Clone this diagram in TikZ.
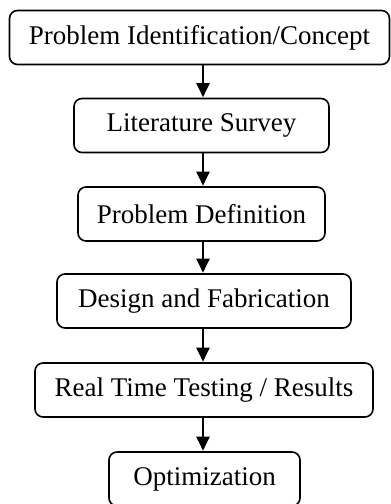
\documentclass[tikz,border=0pt]{standalone}
\usepackage{fontspec}
\setmainfont{Liberation Serif}
\usetikzlibrary{arrows.meta}
\begin{document}
\begin{tikzpicture}[x=1pt,y=-1pt,
  box/.style={draw=black, line width=1.6pt, rounded corners=8pt, inner sep=0pt,
    minimum height=54pt, font=\fontsize{27}{32}\selectfont},
  arr/.style={line width=2pt, -{Triangle[width=13pt,length=14pt]}, shorten >=0.5pt}]
\useasboundingbox (0,0) rectangle (391,504);
\clip (0,0) rectangle (391,504);
\coordinate (ax) at (203,0);
\node[box, minimum width=380pt] (n1) at (199.5,37.5) {Problem Identification/Concept};
\node[box, minimum width=255pt] (n2) at (201.5,125.5) {Literature Survey};
\node[box, minimum width=247pt] (n3) at (201.5,214) {Problem Definition};
\node[box, minimum width=294pt] (n4) at (204,301) {Design and Fabrication};
\node[box, minimum width=338pt] (n5) at (204,390) {Real Time Testing / Results};
\node[box, minimum width=191pt] (n6) at (204.5,479) {Optimization};
\draw[arr] (n1.south -| ax) -- (n2.north -| ax);
\draw[arr] (n2.south -| ax) -- (n3.north -| ax);
\draw[arr] (n3.south -| ax) -- (n4.north -| ax);
\draw[arr] (n4.south -| ax) -- (n5.north -| ax);
\draw[arr] (n5.south -| ax) -- (n6.north -| ax);
\end{tikzpicture}
\end{document}
